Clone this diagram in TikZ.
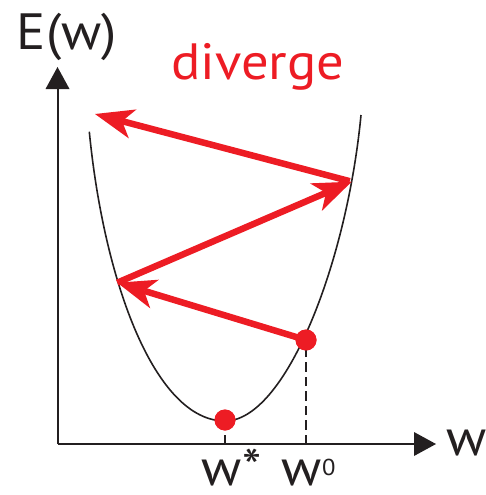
\documentclass[tikz,border=0pt]{standalone}
\usepackage{fontspec}
\setmainfont{PT Sans}[FakeStretch=1.07]
\usepackage{tikz}
\usetikzlibrary{arrows.meta, positioning, calc}
\definecolor{AxisInk}{HTML}{231F20}
\definecolor{StepRed}{HTML}{ED1C24}

\begin{document}
\begin{tikzpicture}[
    x=1pt, y=-1pt,
    axis/.style={
      line width=2pt,
      draw=AxisInk,
      -{Triangle[length=22pt, width=24pt, line width=0pt]},
    },
    curve/.style={line width=1.6pt, draw=AxisInk},
    guide/.style={line width=1.6pt, draw=AxisInk, dash pattern=on 9.5pt off 5pt},
    stepline/.style={
      line width=6.5pt,
      draw=StepRed,
      -{Stealth[length=39pt, width=30pt, inset=11pt, line width=0pt]},
    },
    dot/.style={circle, fill=StepRed, inner sep=0pt, minimum size=21pt},
    biglabel/.style={font=\fontsize{51}{60}\selectfont, text=AxisInk, inner sep=0pt},
  ]
    \useasboundingbox (0,0) rectangle (486,495);

    \coordinate (origin) at (57.5,444);
    \coordinate (ytip) at (57.5,67);
    \coordinate (xtip) at (436,444);
    \coordinate (bowl) at (225,421);

    \draw[curve] (89.3,131.7) .. controls (104,282) and (155,421) .. (bowl)
      .. controls (285,421) and (346.6,265) .. (361,115);

    \node[dot] (wstar) at (225,420) {};
    \node[dot] (wzero) at (306,340) {};

    \draw[guide] (wstar |- origin) -- (wstar.center);
    \draw[guide] (wzero |- origin) -- (wzero.center);

    \draw[axis] (origin) -- (ytip);
    \draw[axis] (origin) -- (xtip);

    \coordinate (turnA) at (117.3,282.7);
    \coordinate (turnB) at (351.7,181.7);
    \coordinate (far) at (95,114);
    \draw[stepline] (wzero.center) -- (turnA);
    \draw[stepline] (turnA) -- (turnB);
    \draw[stepline, shorten <=2pt] (turnB) -- (far);

    \node[dot] at (wstar) {};
    \node[dot] at (wzero) {};

    \node[biglabel, anchor=base west] (elabel) at (16.7,49.3) {E(w)};
    \node[biglabel, text=StepRed, anchor=base] (diverge) at (258,80) {diverge};
    \node[biglabel, anchor=base west] (wlabel) at (446.7,455) {w};
    \node[biglabel, anchor=base west] (wstarlabel) at (201.7,485) {w*};
    \node[biglabel, anchor=base west] (wzerolabel) at (281.7,485)
      {w\raisebox{10pt}{\fontsize{23}{23}\selectfont 0}};
  \end{tikzpicture}
\end{document}
